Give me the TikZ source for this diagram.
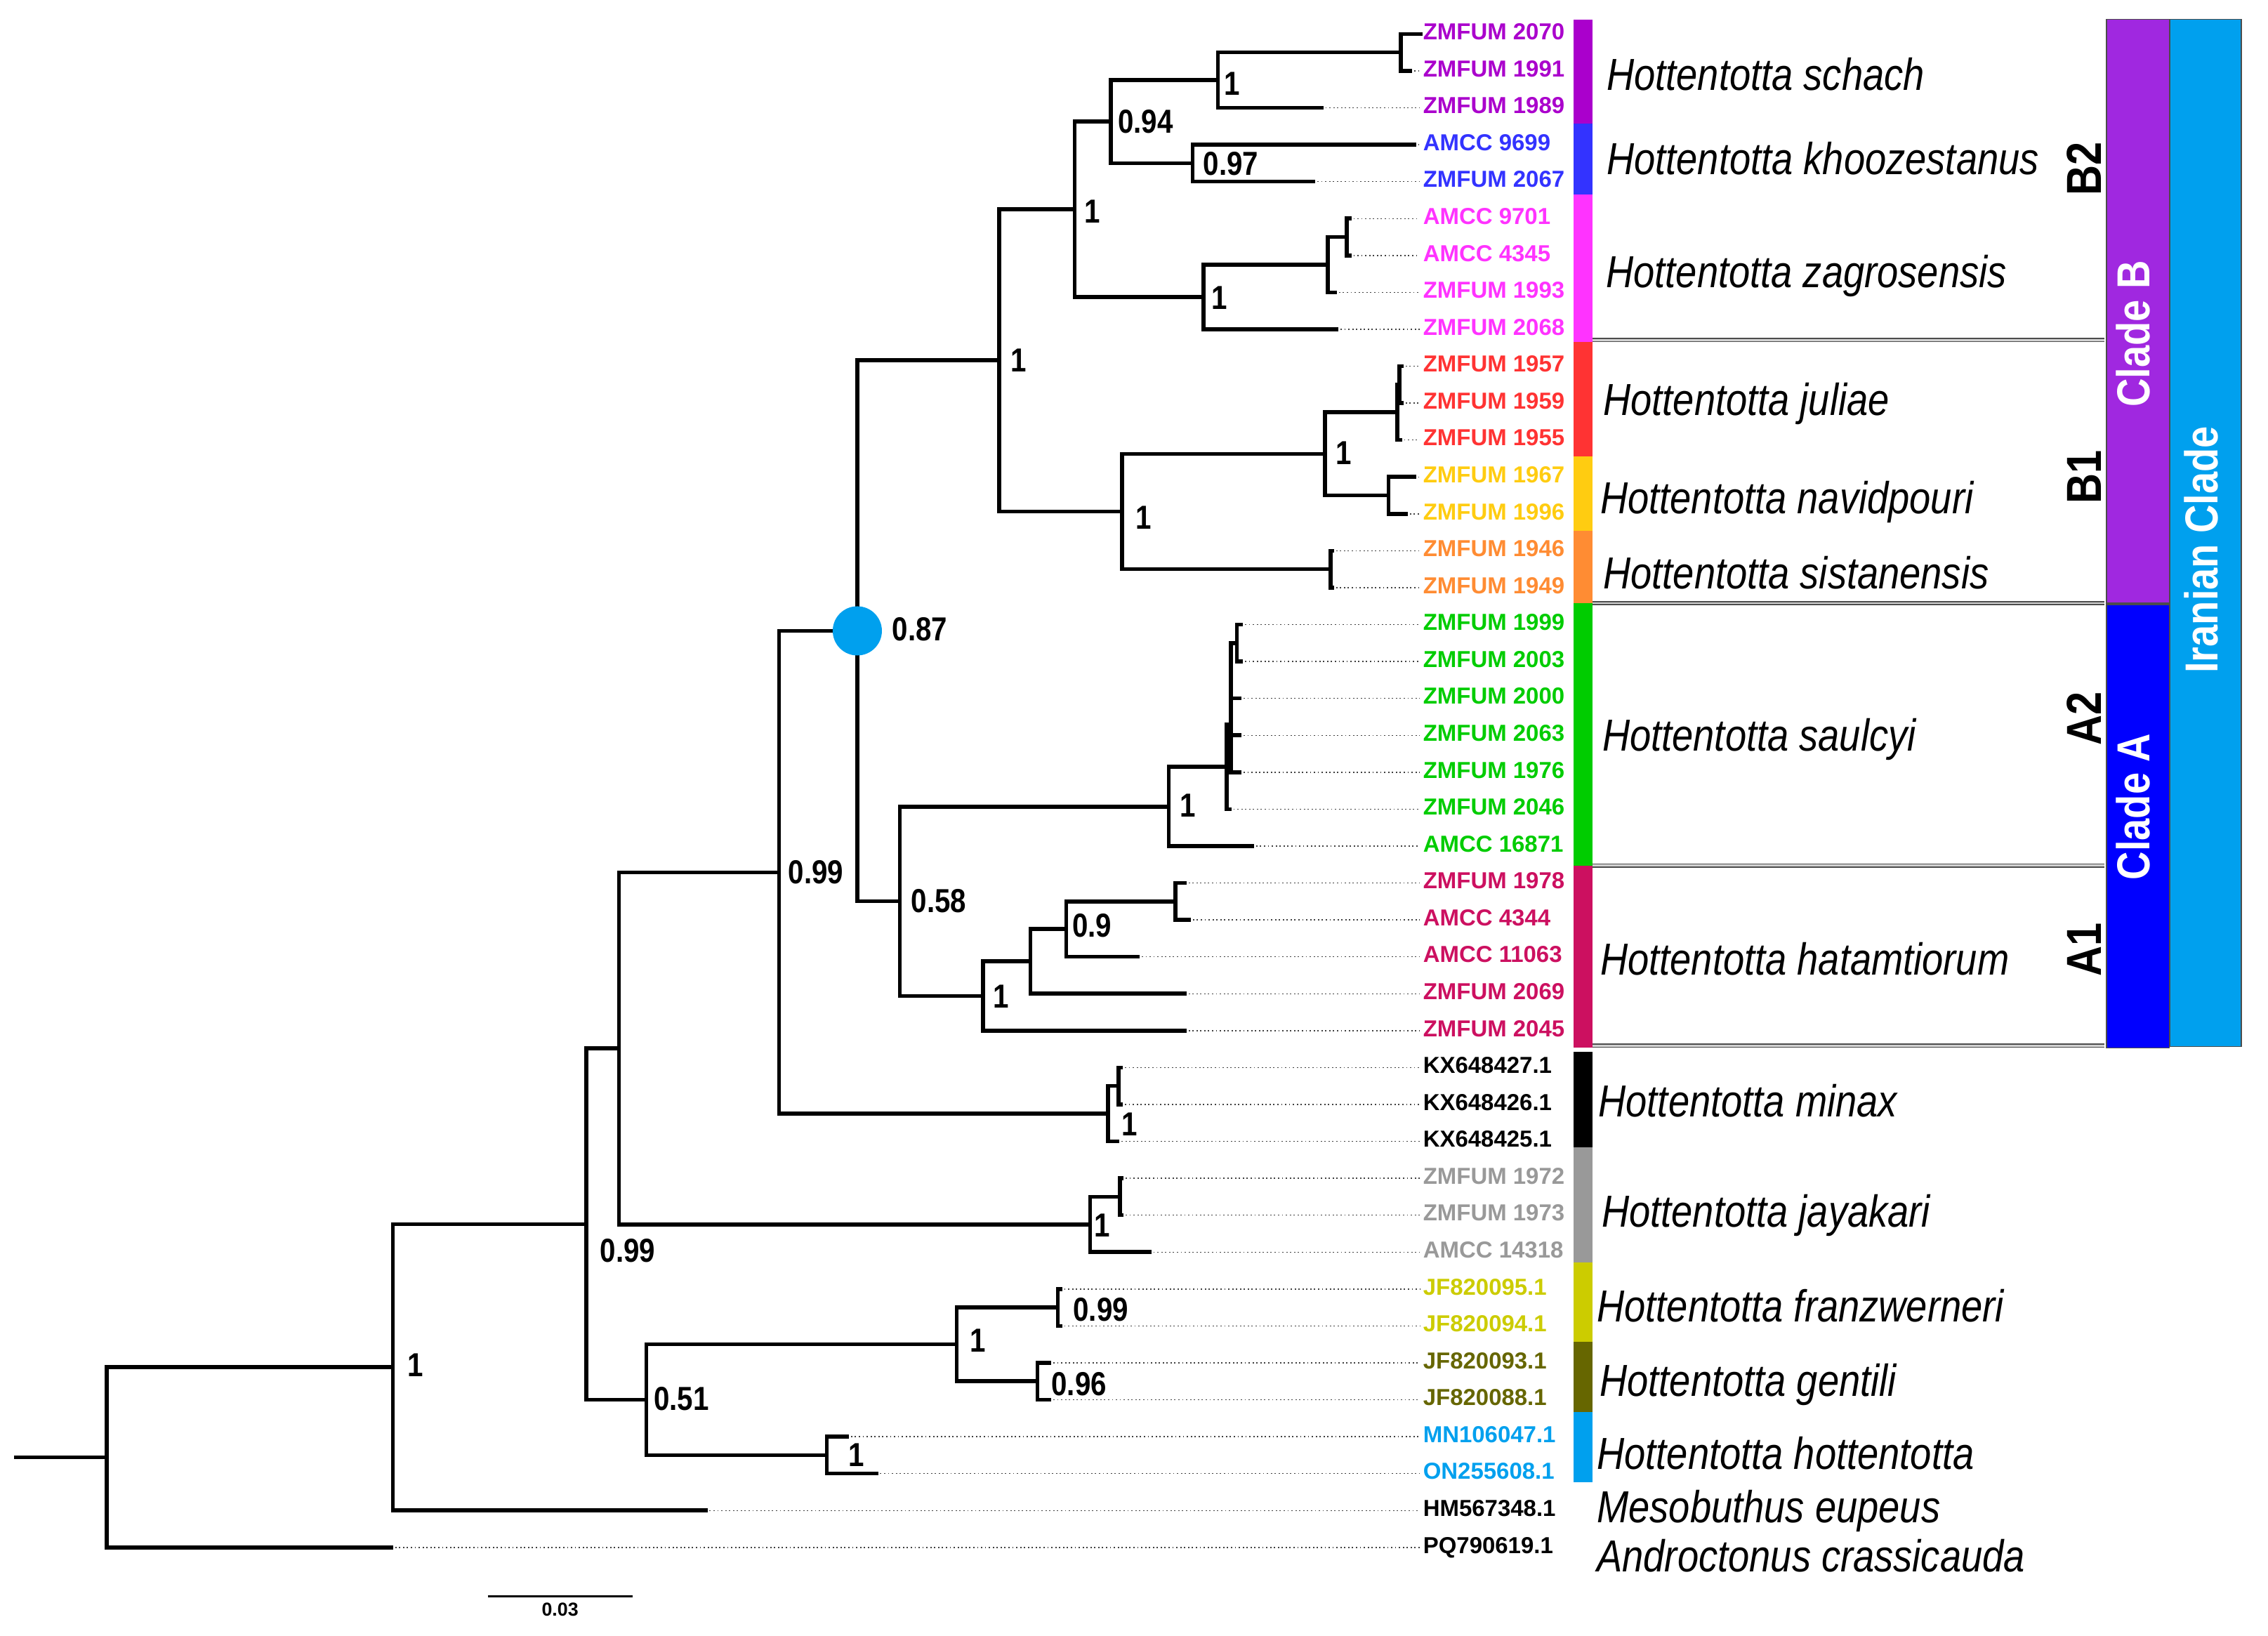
\documentclass[tikz,border=0pt]{standalone}
\usepackage{fontspec}
\setmainfont{Liberation Sans}
\newfontfamily\narrowfont{Liberation Sans}[FakeStretch=0.85]
\usetikzlibrary{calc}
\definecolor{cSch}{HTML}{AA00CC}
\definecolor{cKho}{HTML}{3333FF}
\definecolor{cZag}{HTML}{FF33FF}
\definecolor{cJul}{HTML}{FF3333}
\definecolor{cNav}{HTML}{FFCC11}
\definecolor{cSis}{HTML}{FF8C33}
\definecolor{cSau}{HTML}{00CC00}
\definecolor{cHat}{HTML}{CC1060}
\definecolor{cJay}{HTML}{999999}
\definecolor{cFra}{HTML}{CCCC00}
\definecolor{cGen}{HTML}{666600}
\definecolor{cHot}{HTML}{00A0EE}
\definecolor{cCladeB}{HTML}{A028E0}
\definecolor{cCladeA}{HTML}{0000FF}
\definecolor{cIran}{HTML}{00A0EE}
% row of tip number #1
\newcommand{\ty}[1]{23.5+25.52*#1}

\begin{document}
\begin{tikzpicture}[
  x=0.5pt, y=-0.5pt,
  branch/.style={line width=1.35pt, line join=miter, line cap=rect},
  leader/.style={line width=0.35pt, black!75, dash pattern=on 0.45pt off 0.9pt},
  tiplab/.style={anchor=base west, inner sep=0pt, font=\bfseries\fontsize{8}{9}\selectfont},
  sup/.style={inner sep=0pt, font=\narrowfont\bfseries\fontsize{11.5}{12}\selectfont},
  spec/.style={anchor=base west, inner sep=0pt, font=\narrowfont\itshape\fontsize{15.5}{18}\selectfont},
  cladelab/.style={rotate=90, inner sep=0pt, font=\narrowfont\bfseries\fontsize{17}{18}\selectfont},
  cladebar/.style={draw=black!70, line width=0.4pt},
  sep/.style={draw=black!70, double=gray!35, double distance=0.7pt, line width=0.35pt},
  ]
\useasboundingbox (0,0) rectangle (1568,1131);

% tips and their labels
\foreach \i/\tx/\lab/\col in {
  0/982/ZMFUM 2070/cSch, 1/975/ZMFUM 1991/cSch, 2/913.6/ZMFUM 1989/cSch,
  3/977.7/AMCC 9699/cKho, 4/908/ZMFUM 2067/cKho,
  5/933/AMCC 9701/cZag, 6/933/AMCC 4345/cZag, 7/923/ZMFUM 1993/cZag, 8/924/ZMFUM 2068/cZag,
  9/969/ZMFUM 1957/cJul, 10/969/ZMFUM 1959/cJul, 11/968/ZMFUM 1955/cJul,
  12/977.7/ZMFUM 1967/cNav, 13/972/ZMFUM 1996/cNav,
  14/921/ZMFUM 1946/cSis, 15/921/ZMFUM 1949/cSis,
  16/858/ZMFUM 1999/cSau, 17/858/ZMFUM 2003/cSau, 18/857/ZMFUM 2000/cSau,
  19/857/ZMFUM 2063/cSau, 20/857/ZMFUM 1976/cSau, 21/850/ZMFUM 2046/cSau,
  22/865.7/AMCC 16871/cSau,
  23/819/ZMFUM 1978/cHat, 24/822/AMCC 4344/cHat, 25/786.6/AMCC 11063/cHat,
  26/819/ZMFUM 2069/cHat, 27/819/ZMFUM 2045/cHat,
  28/775/KX648427.1/black, 29/775/KX648426.1/black, 30/772.6/KX648425.1/black,
  31/775.5/ZMFUM 1972/cJay, 32/775.5/ZMFUM 1973/cJay, 33/794.7/AMCC 14318/cJay,
  34/733/JF820095.1/cFra, 35/733/JF820094.1/cFra,
  36/725.5/JF820093.1/cGen, 37/725.5/JF820088.1/cGen,
  38/585.6/MN106047.1/cHot, 39/605.8/ON255608.1/cHot,
  40/487.8/HM567348.1/black, 41/270.5/PQ790619.1/black}{
  \coordinate (t\i) at (\tx,{\ty{\i}});
  \node[tiplab, text=\col] (lab\i) at (983.5,{\ty{\i}+4}) {\lab};
  \draw[leader, shorten >=1pt] (t\i) -- (t\i -| lab\i.west);
}

% internal nodes
\foreach \n/\x/\k in {
  sA/968.5/0.5, sB/842/1.25, kh/824.5/3.5, s94/768/2.375,
  zC/931/5.5, zD/918/6.25, zE/832/7.125, bII/743/4.75,
  jB/967.5/9.5, jA/966/10.25, nA/960/12.5, jn/916/11.375, si/919.8/14.5,
  bI/775.7/12.9375, bR/690.7/8.84,
  sc3/855/16.5, sc2/851/18.7, sc1/848/19.85, saul/808/20.93,
  h9a/812.6/23.5, h9/737.2/24.25, h2/712.3/25.125, h1/679.6/26.06,
  a58/622/23.49, n87/592.7/16.17,
  mB/773.2/28.5, mA/766.1/29.25, n99a/538.5/22.71,
  jyB/774.2/31.5, jy/753.7/32.25, nX/427.9/27.48,
  fr/731.3/34.5, ge/717.3/36.5, fg/661.4/35.5, ho/571.6/38.5, n51/446.8/37,
  n99b/405.3/32.24, nI/271.7/36.12, root/73.7/38.56}
  \coordinate (\n) at (\x,{\ty{\k}});
\coordinate (stub) at (11.3,{\ty{38.56}});

% branches
\foreach \p/\c in {
  sA/t0, sA/t1, sB/sA, sB/t2, kh/t3, kh/t4, s94/sB, s94/kh,
  zC/t5, zC/t6, zD/zC, zD/t7, zE/zD, zE/t8, bII/s94, bII/zE,
  jB/t9, jB/t10, jA/jB, jA/t11, nA/t12, nA/t13, jn/jA, jn/nA,
  si/t14, si/t15, bI/jn, bI/si, bR/bII, bR/bI,
  sc3/t16, sc3/t17, sc2/sc3, sc2/t18, sc2/t19, sc2/t20, sc1/sc2, sc1/t21,
  saul/sc1, saul/t22, h9a/t23, h9a/t24, h9/h9a, h9/t25, h2/h9, h2/t26,
  h1/h2, h1/t27, a58/saul, a58/h1, n87/bR, n87/a58,
  mB/t28, mB/t29, mA/mB, mA/t30, n99a/n87, n99a/mA,
  jyB/t31, jyB/t32, jy/jyB, jy/t33, nX/n99a, nX/jy,
  fr/t34, fr/t35, ge/t36, ge/t37, fg/fr, fg/ge, ho/t38, ho/t39,
  n51/fg, n51/ho, n99b/nX, n99b/n51, nI/n99b, nI/t40, root/nI, root/t41}
  \draw[branch] (\p) |- (\c);
\draw[branch] (stub) -- (root);
\node[circle, fill=cIran, inner sep=0pt, minimum size=17pt] (dot87) at (n87) {};

% support values
\foreach \nm/\x/\y/\v in {
  bR/704/249/1, bII/755/146/1, s94/792/84/0.94, sB/852/58/1, kh/851/113/0.97,
  zE/843/206/1, bI/790.5/358/1, jn/929/313/1, n87/636/435/0.87,
  n99a/564/603/0.99, a58/649/623/0.58, saul/821/557/1, h9/755/640/0.9,
  h1/692/689/1, mA/781/777.5/1, jy/762/847/1, n99b/434/864.6/0.99,
  fg/676/927/1, fr/761/905.5/0.99, ge/746/957/0.96, n51/471/967/0.51,
  ho/592/1006/1, nI/287/944/1}
  \node[sup] (sv\nm) at (\x,\y) {\v};

% species colour strips
\foreach \ya/\yb/\col in {13.4/85.5/cSch, 85.5/134.6/cKho, 134.6/236.3/cZag,
  236.3/315.7/cJul, 315.7/367.2/cNav, 367.2/417/cSis, 417/598.5/cSau,
  598.5/724.5/cHat, 727/793.2/black, 793.2/872.8/cJay, 872.8/927.8/cFra,
  927.8/976.3/cGen, 976.3/1024.8/cHot}
  \fill[\col] (1088,\ya) rectangle (1101,\yb);
\foreach \ys in {235, 417, 598.5, 723}
  \draw[sep] (1101,\ys) -- (1455,\ys);

% species names
\foreach \nm/\x/\y/\txt in {
  sch/1110.4/51.5/Hottentotta schach, kho/1110.4/109.5/Hottentotta khoozestanus,
  zag/1110/188/Hottentotta zagrosensis, jul/1108/276/Hottentotta juliae,
  nav/1106/344/Hottentotta navidpouri, sis/1108/396/Hottentotta sistanensis,
  sau/1107.4/508/Hottentotta saulcyi, hat/1106/663/Hottentotta hatamtiorum,
  min/1104.7/761/Hottentotta minax, jay/1107/837.4/Hottentotta jayakari,
  fra/1103.7/903/Hottentotta franzwerneri, gen/1105.6/954.5/Hottentotta gentili,
  hot/1103.7/1005/Hottentotta hottentotta, mes/1103.7/1041.7/Mesobuthus eupeus,
  and/1103.7/1075.7/Androctonus crassicauda}
  \node[spec] (sp\nm) at (\x,{\y+11}) {\txt};

% clade bars
\draw[cladebar, fill=cIran] (1500.3,13.4) rectangle (1549.4,723.6);
\draw[cladebar, fill=cCladeB] (1456.3,13.4) rectangle (1499.7,417);
\draw[cladebar, fill=cCladeA] (1456.3,418) rectangle (1499.7,724.5);
\node[cladelab, text=white, font=\narrowfont\bfseries\fontsize{16}{17}\selectfont] (cladeB) at (1474.5,230.7) {Clade B};
\node[cladelab, text=white, font=\narrowfont\bfseries\fontsize{16}{17}\selectfont] (cladeA) at (1474.5,557.8) {Clade A};
\node[cladelab, text=white, font=\narrowfont\bfseries\fontsize{16}{17}\selectfont] (iran) at (1522,380) {Iranian Clade};
\node[cladelab] (subB2) at (1441,116.5) {B2};
\node[cladelab] (subB1) at (1441,330) {B1};
\node[cladelab] (subA2) at (1441,497) {A2};
\node[cladelab] (subA1) at (1441,656.4) {A1};

% scale bar
\coordinate (sbL) at (337.3,1103.8);
\coordinate (sbR) at (437.5,1103.8);
\draw[line width=0.7pt] (sbL) -- (sbR);
\node[inner sep=0pt, font=\bfseries\fontsize{6.5}{7}\selectfont] (sbLab) at (387.2,1113) {0.03};
\end{tikzpicture}
\end{document}
